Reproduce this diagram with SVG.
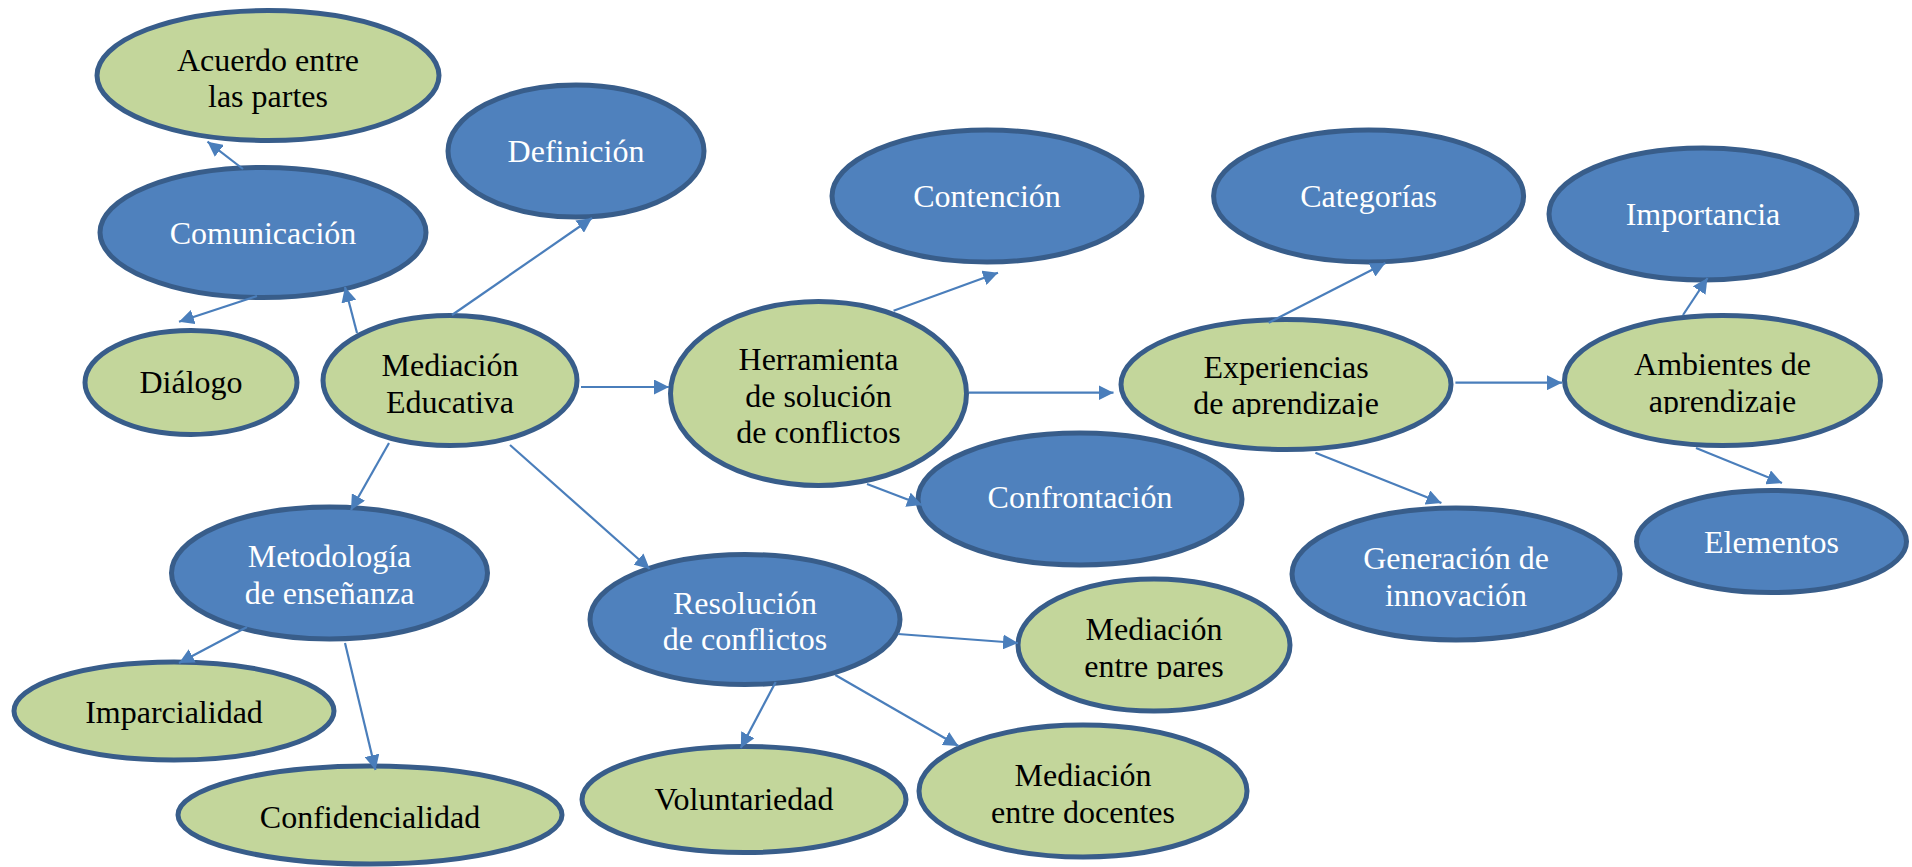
<svg xmlns="http://www.w3.org/2000/svg" width="1912" height="867" viewBox="0 0 1912 867">
<style>
.g{fill:#C3D69B;stroke:#385D8A;stroke-width:5}
.b{fill:#4F81BD;stroke:#385D8A;stroke-width:5}
text{font-family:"Liberation Serif","Times New Roman",serif;font-size:32px;text-anchor:middle}
.tg{fill:#000}
.tb{fill:#fff}
.c line{stroke:#4A7EBB;stroke-width:2.2;marker-end:url(#ah)}
</style>
<defs>
<marker id="ah" markerUnits="userSpaceOnUse" markerWidth="16" markerHeight="15" refX="15" refY="7.5" orient="auto">
<path d="M0,0 L15,7.5 L0,15 z" fill="#4A7EBB"/>
</marker>
<clipPath id="clipExp"><rect x="1100" y="300" width="380" height="117"/></clipPath>
<clipPath id="clipAmb"><rect x="1550" y="300" width="340" height="114"/></clipPath>
<clipPath id="clipPar"><rect x="1000" y="570" width="300" height="109"/></clipPath>
</defs>
<rect width="1912" height="867" fill="#fff"/>
<g id="acuerdo"><ellipse class="g" cx="268" cy="75.5" rx="171" ry="65"/><text class="tg" x="268" y="70.7">Acuerdo entre</text><text class="tg" x="268" y="106.7">las partes</text></g>
<g id="definicion"><ellipse class="b" cx="576" cy="151" rx="128" ry="66"/><text class="tb" x="576" y="162">Definición</text></g>
<g id="comunicacion"><ellipse class="b" cx="263" cy="232.5" rx="163" ry="65"/><text class="tb" x="263" y="244">Comunicación</text></g>
<g id="dialogo"><ellipse class="g" cx="191" cy="382.5" rx="106" ry="52"/><text class="tg" x="191" y="393">Diálogo</text></g>
<g id="mediacion"><ellipse class="g" cx="450" cy="380.5" rx="127" ry="65"/><text class="tg" x="450" y="376">Mediación</text><text class="tg" x="450" y="413">Educativa</text></g>
<g id="metodologia"><ellipse class="b" cx="329.5" cy="573" rx="158" ry="66"/><text class="tb" x="329.5" y="566.7">Metodología</text><text class="tb" x="329.5" y="604">de enseñanza</text></g>
<g id="imparcialidad"><ellipse class="g" cx="174" cy="711" rx="160" ry="49"/><text class="tg" x="174" y="723">Imparcialidad</text></g>
<g id="confidencialidad"><ellipse class="g" cx="370" cy="815" rx="192" ry="49"/><text class="tg" x="370" y="828">Confidencialidad</text></g>
<g id="herramienta"><ellipse class="g" cx="818.5" cy="393.5" rx="148" ry="92"/><text class="tg" x="818.5" y="370">Herramienta</text><text class="tg" x="818.5" y="407">de solución</text><text class="tg" x="818.5" y="443">de conflictos</text></g>
<g id="contencion"><ellipse class="b" cx="987" cy="196" rx="155" ry="66"/><text class="tb" x="987" y="207">Contención</text></g>
<g id="confrontacion"><ellipse class="b" cx="1080" cy="499" rx="162" ry="66"/><text class="tb" x="1080" y="508">Confrontación</text></g>
<g id="resolucion"><ellipse class="b" cx="745" cy="619.5" rx="155" ry="65"/><text class="tb" x="745" y="614">Resolución</text><text class="tb" x="745" y="650">de conflictos</text></g>
<g id="pares"><ellipse class="g" cx="1154" cy="645" rx="136" ry="66"/><text class="tg" x="1154" y="640">Mediación</text><text class="tg" x="1154" y="677" clip-path="url(#clipPar)">entre pares</text></g>
<g id="voluntariedad"><ellipse class="g" cx="744" cy="799.5" rx="162" ry="53"/><text class="tg" x="744" y="810">Voluntariedad</text></g>
<g id="docentes"><ellipse class="g" cx="1083" cy="791" rx="164" ry="66"/><text class="tg" x="1083" y="786">Mediación</text><text class="tg" x="1083" y="823">entre docentes</text></g>
<g id="experiencias"><ellipse class="g" cx="1286" cy="384.5" rx="165" ry="65"/><text class="tg" x="1286" y="378">Experiencias</text><text class="tg" x="1286" y="414" clip-path="url(#clipExp)">de aprendizaje</text></g>
<g id="categorias"><ellipse class="b" cx="1368.6" cy="196" rx="155" ry="66"/><text class="tb" x="1368.6" y="207">Categorías</text></g>
<g id="importancia"><ellipse class="b" cx="1703" cy="214" rx="154" ry="66"/><text class="tb" x="1703" y="225">Importancia</text></g>
<g id="ambientes"><ellipse class="g" cx="1722.5" cy="380.5" rx="158" ry="65"/><text class="tg" x="1722.5" y="375">Ambientes de</text><text class="tg" x="1722.5" y="412" clip-path="url(#clipAmb)">aprendizaje</text></g>
<g id="generacion"><ellipse class="b" cx="1456" cy="574" rx="164" ry="66"/><text class="tb" x="1456" y="569">Generación de</text><text class="tb" x="1456" y="606">innovación</text></g>
<g id="elementos"><ellipse class="b" cx="1771.5" cy="541.5" rx="135" ry="51"/><text class="tb" x="1771.5" y="553">Elementos</text></g>
<g id="connectors" class="c">
<line x1="243" y1="169" x2="207.5" y2="141.7"/>
<line x1="257" y1="296" x2="179" y2="321.7"/>
<line x1="357" y1="333" x2="345" y2="287"/>
<line x1="452" y1="315" x2="592" y2="218"/>
<line x1="581" y1="387" x2="669" y2="387"/>
<line x1="389" y1="443" x2="351" y2="510"/>
<line x1="247" y1="627" x2="179" y2="663"/>
<line x1="345" y1="643" x2="375.5" y2="770"/>
<line x1="510" y1="445" x2="649.7" y2="569"/>
<line x1="893.6" y1="310.7" x2="998" y2="272.7"/>
<line x1="969" y1="392.7" x2="1113.5" y2="392.7"/>
<line x1="867" y1="484" x2="922" y2="505"/>
<line x1="898" y1="634" x2="1018" y2="643"/>
<line x1="775.7" y1="682" x2="740.8" y2="748"/>
<line x1="835.3" y1="675" x2="958.4" y2="746"/>
<line x1="1268.7" y1="322.7" x2="1385.4" y2="263"/>
<line x1="1455.4" y1="382.7" x2="1562" y2="382.7"/>
<line x1="1683" y1="315" x2="1707.5" y2="278"/>
<line x1="1696" y1="448" x2="1782" y2="483"/>
<line x1="1315.4" y1="452.7" x2="1441.4" y2="503"/>
</g>
</svg>
